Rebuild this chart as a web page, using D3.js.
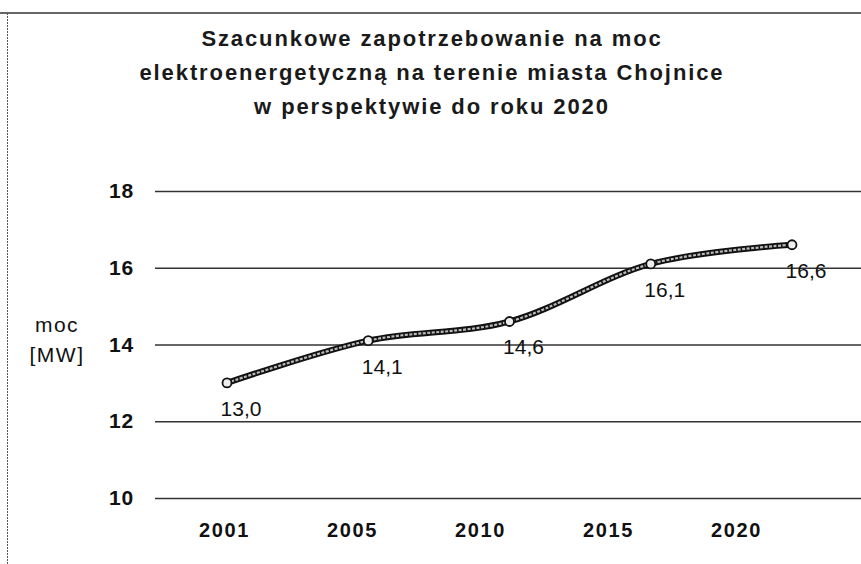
<!DOCTYPE html>
<html>
<head>
<meta charset="utf-8">
<script src="https://cdn.jsdelivr.net/npm/d3@7"></script>
<style>
  html, body { margin: 0; padding: 0; background: #fff; }
  svg { display: block; font-family: "Liberation Sans", Arial, sans-serif; }
</style>
</head>
<body>
<svg id="chart" width="861" height="564"></svg>
<script>
// ---- data ----
const years = ["2001", "2005", "2010", "2015", "2020"];
const demand = [13.0, 14.1, 14.6, 16.1, 16.6];
const yTicks = [10, 12, 14, 16, 18];
const titleLines = [
  "Szacunkowe zapotrzebowanie na moc",
  "elektroenergetyczną na terenie miasta Chojnice",
  "w perspektywie do roku 2020"
];
const yAxisLabel = ["moc", "[MW]"];

// ---- drawing ----
const W = 861, H = 564;
const svg = d3.select("#chart");

// frame (scanned chart border)
svg.append("line").attr("x1", 0).attr("x2", W).attr("y1", 13).attr("y2", 13)
  .attr("stroke", "#333").attr("stroke-width", 1.5);
svg.append("line").attr("x1", 7.5).attr("x2", 7.5).attr("y1", 13).attr("y2", H)
  .attr("stroke", "#555").attr("stroke-width", 1).attr("stroke-dasharray", "2,1");

// title
svg.append("g").selectAll("text").data(titleLines).join("text")
  .attr("x", 432).attr("y", (d, i) => 46 + i * 34)
  .attr("text-anchor", "middle")
  .attr("font-size", 22).attr("font-weight", "bold").attr("fill", "#1a1a1a")
  .attr("letter-spacing", 1.9)
  .text(d => d);

const plotLeft = 155, plotRight = W;
const y = d3.scaleLinear().domain([10, 18]).range([498, 191]);
const xLab = d3.scalePoint().domain(years).range([224, 736]);
const xPt = d3.scalePoint().domain(years).range([227, 792]);

// y axis with gridlines
const yAxis = svg.append("g").attr("transform", `translate(${plotLeft},0)`)
  .call(d3.axisLeft(y).tickValues(yTicks).tickSize(-(plotRight - plotLeft)).tickPadding(21).tickFormat(d3.format("d")));
yAxis.select(".domain").remove();
yAxis.selectAll(".tick line").attr("stroke", "#333").attr("stroke-width", 1.4);
yAxis.selectAll(".tick text").attr("font-size", 21).attr("font-weight", "bold")
  .attr("fill", "#111").attr("letter-spacing", 0.8)
  .attr("font-family", "'Liberation Sans', Arial, sans-serif");

// x axis labels
const xAxis = svg.append("g").attr("transform", `translate(0,${y(10)})`)
  .call(d3.axisBottom(xLab).tickSize(0).tickPadding(25));
xAxis.select(".domain").remove();
xAxis.selectAll(".tick text").attr("font-size", 20).attr("font-weight", "bold")
  .attr("fill", "#111").attr("letter-spacing", 1.6)
  .attr("font-family", "'Liberation Sans', Arial, sans-serif");

// y axis title
svg.append("g").selectAll("text").data(yAxisLabel).join("text")
  .attr("x", 57).attr("y", (d, i) => 332 + i * 30)
  .attr("text-anchor", "middle").attr("font-size", 21).attr("fill", "#111")
  .attr("letter-spacing", 1.5)
  .text(d => d);

// line (smoothed, double-stroke look)
const pts = years.map((yr, i) => ({ yr, v: demand[i] }));
const line = d3.line().x(d => xPt(d.yr)).y(d => y(d.v)).curve(d3.curveCardinal.tension(0));
svg.append("path").datum(pts).attr("d", line)
  .attr("fill", "none").attr("stroke", "#111").attr("stroke-width", 6).attr("stroke-linecap", "round");
svg.append("path").datum(pts).attr("d", line)
  .attr("fill", "none").attr("stroke", "#bbb").attr("stroke-width", 2.2)
  .attr("stroke-dasharray", "3,1.5");

// markers
svg.append("g").selectAll("circle").data(pts).join("circle")
  .attr("cx", d => xPt(d.yr)).attr("cy", d => y(d.v)).attr("r", 4.5)
  .attr("fill", "#eee").attr("stroke", "#111").attr("stroke-width", 1.8);

// data labels
const fmt = v => d3.format(".1f")(v).replace(".", ",");
svg.append("g").selectAll("text").data(pts).join("text")
  .attr("x", d => xPt(d.yr) + 14).attr("y", d => y(d.v) + 33)
  .attr("text-anchor", "middle").attr("font-size", 21).attr("fill", "#111")
  .text(d => fmt(d.v));
</script>
</body>
</html>
